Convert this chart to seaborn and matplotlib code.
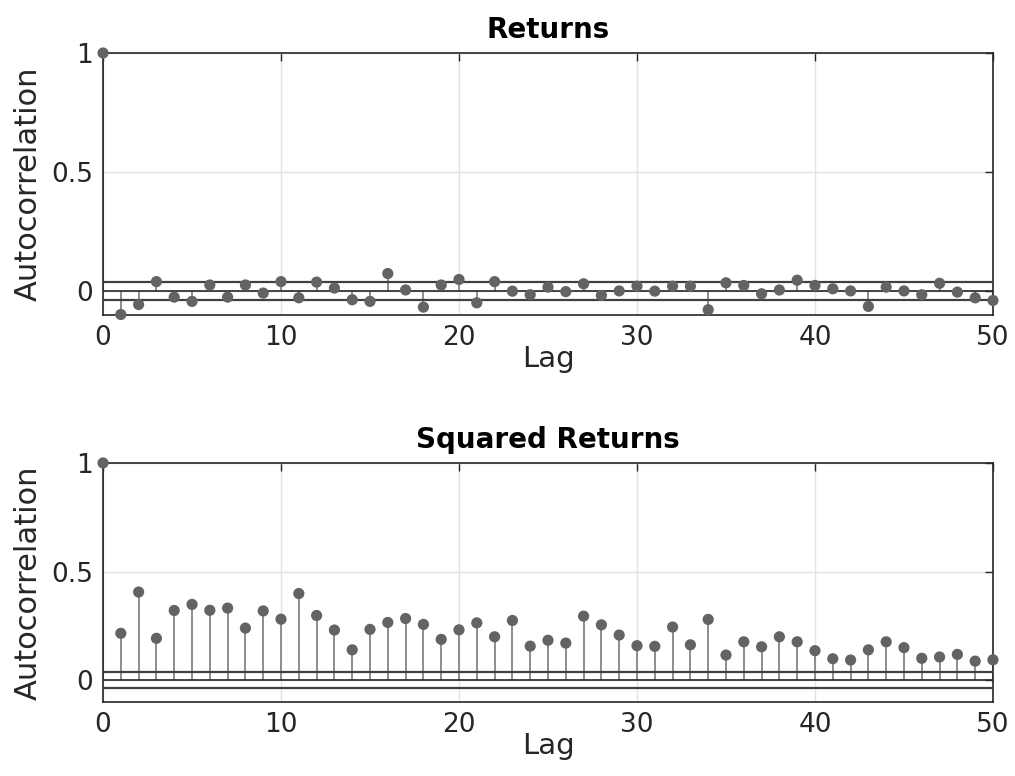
import numpy as np
import pandas as pd
import matplotlib
matplotlib.use("Agg")
import matplotlib.pyplot as plt
import seaborn as sns

lags = list(range(0, 51))
acf_returns = [1.0,
    -0.098, -0.056, 0.040, -0.025, -0.043, 0.026, -0.025, 0.026, -0.008, 0.040,
    -0.028, 0.038, 0.013, -0.036, -0.043, 0.074, 0.005, -0.067, 0.026, 0.049,
    -0.049, 0.040, 0.000, -0.015, 0.017, -0.002, 0.031, -0.018, 0.001, 0.021,
    0.000, 0.021, 0.021, -0.078, 0.035, 0.024, -0.011, 0.005, 0.046, 0.024,
    0.010, 0.001, -0.064, 0.017, 0.001, -0.015, 0.033, -0.004, -0.028, -0.039]
acf_squared = [1.0,
    0.216, 0.406, 0.193, 0.321, 0.349, 0.322, 0.332, 0.240, 0.319, 0.281,
    0.399, 0.298, 0.231, 0.140, 0.234, 0.266, 0.284, 0.257, 0.188, 0.232,
    0.264, 0.200, 0.275, 0.157, 0.184, 0.171, 0.295, 0.255, 0.208, 0.159,
    0.156, 0.245, 0.163, 0.280, 0.116, 0.177, 0.154, 0.200, 0.177, 0.136,
    0.099, 0.093, 0.140, 0.177, 0.150, 0.101, 0.107, 0.119, 0.088, 0.094]
conf_bound = 0.037
titles = ["Returns", "Squared Returns"]
x_ticks = [0, 10, 20, 30, 40, 50]
y_ticks = [0, 0.5, 1]
y_ticklabels = ["0", "0.5", "1"]

sns.set_style("white")
plt.rcParams['font.family'] = ['DejaVu Sans']

fig = plt.figure(figsize=(10.15, 7.76), dpi=100)
ax1 = fig.add_axes([0.1015, 0.5941, 0.8768, 0.3376])
ax2 = fig.add_axes([0.1015, 0.0954, 0.8768, 0.3080])

dark = "#262626"
for ax, vals, title in zip([ax1, ax2], [acf_returns, acf_squared], titles):
    df = pd.DataFrame({"Lag": lags, "ACF": vals})
    ax.grid(True, color="#e3e3e3", linewidth=1)
    ax.set_axisbelow(True)
    ax.vlines(df["Lag"], 0, df["ACF"], color="#858585", linewidth=1.3, zorder=2)
    ax.axhline(0, color=dark, linewidth=1.2, zorder=3)
    ax.axhline(conf_bound, color="#404040", linewidth=1.6, zorder=3)
    ax.axhline(-conf_bound, color="#404040", linewidth=1.6, zorder=3)
    sns.scatterplot(data=df, x="Lag", y="ACF", ax=ax, color="#636363",
                    s=65, edgecolor="none", zorder=4, clip_on=False)
    ax.set_xlim(0, 50)
    ax.set_ylim(-0.1, 1)
    ax.set_xticks(x_ticks)
    ax.set_yticks(y_ticks)
    ax.set_yticklabels(y_ticklabels)
    ax.tick_params(direction="in", length=6, width=1, colors=dark,
                   labelsize=19, top=True, right=True, pad=7)
    for lab in ax.get_xticklabels() + ax.get_yticklabels():
        lab.set_color(dark)
    for sp in ax.spines.values():
        sp.set_color(dark)
        sp.set_linewidth(1.2)
        sp.set_visible(True)
    ax.set_xlabel("Lag", fontsize=21, color=dark, labelpad=-4)
    ax.set_ylabel("Autocorrelation", fontsize=22, color=dark, labelpad=6)
    ax.set_title(title, fontsize=20, fontweight="bold", color="black", pad=11)

fig.savefig("out.png", dpi=100)
